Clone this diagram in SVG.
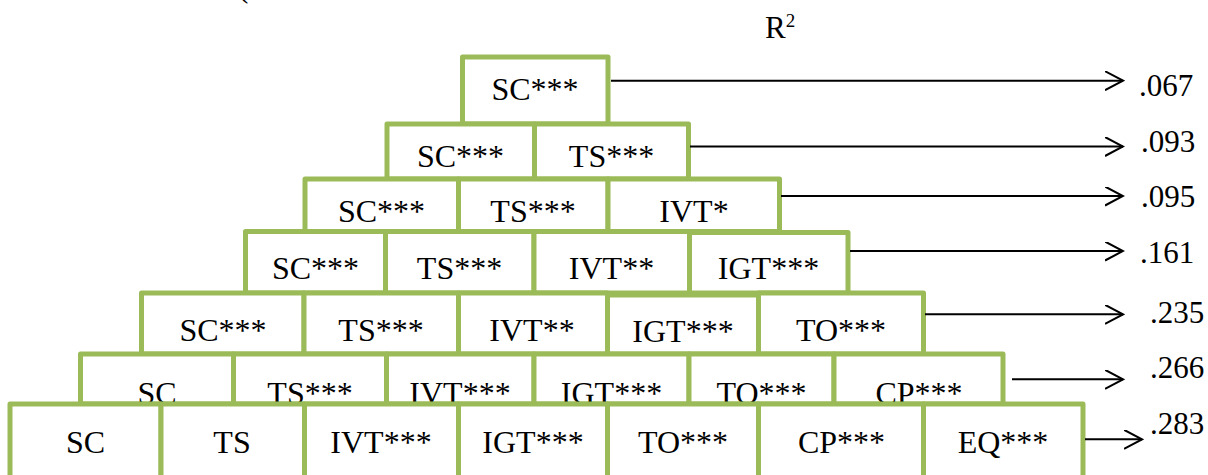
<svg xmlns="http://www.w3.org/2000/svg" width="1208" height="475" viewBox="0 0 1208 475">
  <style>
    .box { fill: #ffffff; stroke: #9BBB59; stroke-width: 5; stroke-linejoin: round; }
    .lbl { font-family: "Liberation Serif", "Times New Roman", serif; font-size: 32px; fill: #000000; text-anchor: middle; }
    .val { font-family: "Liberation Serif", "Times New Roman", serif; font-size: 31px; fill: #000000; }
    .conn { stroke: #000000; stroke-width: 2; fill: none; marker-end: url(#chev); }
  </style>
  <defs>
    <marker id="chev" viewBox="0 0 20 20" refX="18" refY="9.5" markerWidth="20" markerHeight="20" markerUnits="userSpaceOnUse" orient="auto">
      <path d="M0,0 L18,9.5 L0,19" fill="none" stroke="#000000" stroke-width="2"/>
    </marker>
  </defs>
  <rect width="1208" height="475" fill="#ffffff"/>

  <!-- heading fragment, cut by the top edge -->
  <text class="val" x="238" y="-3">(</text>

  <!-- column header -->
  <text class="val" x="765" y="38" font-size="30">R<tspan font-size="19" dy="-11">2</tspan></text>

  <!-- model 1 -->
  <g id="m1">
    <rect class="box" x="462.5" y="57" width="145.5" height="67"/>
    <text class="lbl" x="535" y="99.5">SC***</text>
  </g>

  <!-- model 2 -->
  <g id="m2">
    <rect class="box" x="387" y="124" width="147.5" height="55"/>
    <rect class="box" x="534.5" y="124" width="154" height="55"/>
    <text class="lbl" x="460.5" y="167">SC***</text>
    <text class="lbl" x="611.5" y="167">TS***</text>
  </g>

  <!-- model 3 -->
  <g id="m3">
    <rect class="box" x="305" y="179" width="153.5" height="52.5"/>
    <rect class="box" x="458.5" y="179" width="149.5" height="52.5"/>
    <rect class="box" x="608" y="179" width="171.5" height="52.5"/>
    <text class="lbl" x="381.5" y="222">SC***</text>
    <text class="lbl" x="533" y="222">TS***</text>
    <text class="lbl" x="694" y="222">IVT*</text>
  </g>

  <!-- model 4 -->
  <g id="m4">
    <rect class="box" x="245.5" y="231.5" width="140" height="61.5"/>
    <rect class="box" x="385.5" y="231.5" width="148.5" height="61.5"/>
    <rect class="box" x="534" y="231.5" width="155.5" height="61.5"/>
    <rect class="box" x="689.5" y="232.5" width="158.5" height="60.5"/>
    <text class="lbl" x="315.5" y="279">SC***</text>
    <text class="lbl" x="459.5" y="279">TS***</text>
    <text class="lbl" x="611.5" y="279">IVT**</text>
    <text class="lbl" x="768.5" y="279">IGT***</text>
  </g>

  <!-- model 5 -->
  <g id="m5">
    <rect class="box" x="141.5" y="293" width="162.5" height="61"/>
    <rect class="box" x="304" y="293" width="154.5" height="61"/>
    <rect class="box" x="458.5" y="293" width="149" height="61"/>
    <rect class="box" x="607.5" y="295" width="151" height="59"/>
    <rect class="box" x="758.5" y="293" width="165" height="61"/>
    <text class="lbl" x="223" y="341">SC***</text>
    <text class="lbl" x="381" y="341">TS***</text>
    <text class="lbl" x="532" y="341">IVT**</text>
    <text class="lbl" x="683" y="341.5">IGT***</text>
    <text class="lbl" x="841" y="341">TO***</text>
  </g>

  <!-- model 6 -->
  <g id="m6">
    <rect class="box" x="80.5" y="354" width="153" height="50"/>
    <rect class="box" x="233.5" y="354" width="153" height="50"/>
    <rect class="box" x="386.5" y="354" width="147.5" height="50"/>
    <rect class="box" x="534" y="354" width="155" height="50"/>
    <rect class="box" x="689" y="354" width="145" height="50"/>
    <rect class="box" x="834" y="354" width="169" height="50"/>
    <text class="lbl" x="157" y="404">SC</text>
    <text class="lbl" x="310" y="404">TS***</text>
    <text class="lbl" x="460" y="404">IVT***</text>
    <text class="lbl" x="611.5" y="404">IGT***</text>
    <text class="lbl" x="761.5" y="404">TO***</text>
    <text class="lbl" x="919" y="404">CP***</text>
  </g>

  <!-- model 7 -->
  <g id="m7">
    <rect class="box" x="10" y="404" width="151" height="90"/>
    <rect class="box" x="161" y="404" width="143.5" height="90"/>
    <rect class="box" x="304.5" y="404" width="154" height="90"/>
    <rect class="box" x="458.5" y="404" width="149" height="90"/>
    <rect class="box" x="607.5" y="404" width="151" height="90"/>
    <rect class="box" x="758.5" y="404" width="165" height="90"/>
    <rect class="box" x="923.5" y="404" width="159.5" height="90"/>
    <text class="lbl" x="85.5" y="452.5">SC</text>
    <text class="lbl" x="232" y="452.5">TS</text>
    <text class="lbl" x="381" y="452.5">IVT***</text>
    <text class="lbl" x="533" y="452.5">IGT***</text>
    <text class="lbl" x="683" y="452.5">TO***</text>
    <text class="lbl" x="841.5" y="452.5">CP***</text>
    <text class="lbl" x="1003" y="452.5">EQ***</text>
  </g>

  <!-- connectors to explained variance -->
  <g id="connectors">
    <line class="conn" x1="611" y1="80.7" x2="1123" y2="80.7"/>
    <line class="conn" x1="690" y1="146.5" x2="1123" y2="146.5"/>
    <line class="conn" x1="781" y1="196" x2="1123" y2="196"/>
    <line class="conn" x1="850" y1="251" x2="1123" y2="251"/>
    <line class="conn" x1="925" y1="314.3" x2="1123" y2="314.3"/>
    <line class="conn" x1="1012" y1="379.3" x2="1123" y2="379.3"/>
    <line class="conn" x1="1085" y1="439.3" x2="1142" y2="439.3"/>
  </g>

  <!-- R-squared values -->
  <g id="values">
    <text class="val" x="1139" y="96">.067</text>
    <text class="val" x="1141" y="152">.093</text>
    <text class="val" x="1141" y="207">.095</text>
    <text class="val" x="1140" y="263">.161</text>
    <text class="val" x="1150" y="323">.235</text>
    <text class="val" x="1150" y="378">.266</text>
    <text class="val" x="1150" y="434">.283</text>
  </g>
</svg>
